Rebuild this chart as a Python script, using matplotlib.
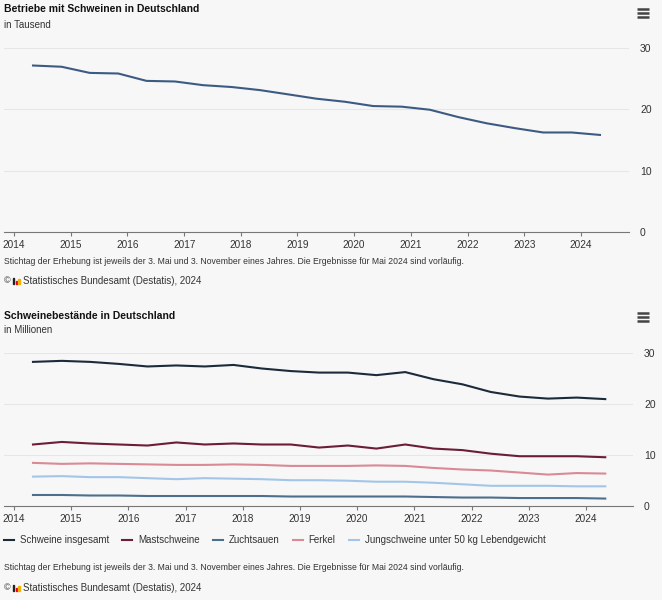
import pandas as pd
import matplotlib
matplotlib.use('Agg')
import matplotlib.pyplot as plt
import matplotlib.dates as mdates
from matplotlib.lines import Line2D
from matplotlib.patches import Rectangle

# Stichtage: jeweils 3. Mai und 3. November
stichtage = pd.to_datetime([
    '2014-05-03', '2014-11-03', '2015-05-03', '2015-11-03', '2016-05-03',
    '2016-11-03', '2017-05-03', '2017-11-03', '2018-05-03', '2018-11-03',
    '2019-05-03', '2019-11-03', '2020-05-03', '2020-11-03', '2021-05-03',
    '2021-11-03', '2022-05-03', '2022-11-03', '2023-05-03', '2023-11-03',
    '2024-05-03'])

# Betriebe in Tausend
betriebe = [27.1, 26.9, 25.9, 25.8, 24.6, 24.5, 23.9, 23.6, 23.1, 22.4,
            21.7, 21.2, 20.5, 20.4, 19.9, 18.7, 17.7, 16.9, 16.2, 16.2, 15.8]

# Bestaende in Millionen
insgesamt = [28.2, 28.4, 28.2, 27.8, 27.3, 27.5, 27.3, 27.6, 26.9, 26.4,
             26.1, 26.1, 25.6, 26.2, 24.8, 23.8, 22.3, 21.4, 21.0, 21.2, 20.9]
mast = [12.0, 12.5, 12.2, 12.0, 11.8, 12.4, 12.0, 12.2, 12.0, 12.0,
        11.4, 11.8, 11.2, 12.0, 11.2, 10.9, 10.2, 9.7, 9.7, 9.7, 9.5]
zucht = [2.1, 2.1, 2.0, 2.0, 1.9, 1.9, 1.9, 1.9, 1.9, 1.8,
         1.8, 1.8, 1.8, 1.8, 1.7, 1.6, 1.6, 1.5, 1.5, 1.5, 1.4]
ferkel = [8.4, 8.2, 8.3, 8.2, 8.1, 8.0, 8.0, 8.1, 8.0, 7.8,
          7.8, 7.8, 7.9, 7.8, 7.4, 7.1, 6.9, 6.5, 6.1, 6.4, 6.3]
jung = [5.7, 5.8, 5.6, 5.6, 5.4, 5.2, 5.4, 5.3, 5.2, 5.0,
        5.0, 4.9, 4.7, 4.7, 4.5, 4.2, 3.9, 3.9, 3.9, 3.8, 3.8]

serien = [
    ('Schweine insgesamt', insgesamt, '#1c2b3c'),
    ('Mastschweine', mast, '#6b1d3a'),
    ('Zuchtsauen', zucht, '#4d6f8e'),
    ('Ferkel', ferkel, '#d98a95'),
    ('Jungschweine unter 50 kg Lebendgewicht', jung, '#a3c6e8'),
]

fussnote = ('Stichtag der Erhebung ist jeweils der 3. Mai und 3. November eines Jahres. '
            'Die Ergebnisse für Mai 2024 sind vorläufig.')
quelle = 'Statistisches Bundesamt (Destatis), 2024'

plt.rcParams['font.family'] = ['Liberation Sans', 'DejaVu Sans']

BG = '#f7f7f7'
TXT = '#333333'
W, H = 662, 600
fig = plt.figure(figsize=(W / 100, H / 100), dpi=100, facecolor=BG)


def fx(x):
    return x / W


def fy(y):
    return 1 - y / H


def style_axes(ax, x0, x1):
    ax.set_facecolor(BG)
    ax.set_ylim(0, 30)
    ax.set_yticks([0, 10, 20, 30])
    ax.yaxis.tick_right()
    ax.tick_params(axis='y', length=0, pad=8, labelsize=7.5, labelcolor=TXT)
    ax.tick_params(axis='x', length=3, color='#777777', labelsize=7.2,
                   labelcolor=TXT, pad=3)
    ax.set_xlim(pd.Timestamp(x0), pd.Timestamp(x1))
    ax.xaxis.set_major_locator(mdates.YearLocator())
    ax.xaxis.set_major_formatter(mdates.DateFormatter('%Y'))
    for s in ['top', 'right', 'left']:
        ax.spines[s].set_visible(False)
    ax.spines['bottom'].set_color('#777777')
    ax.grid(axis='y', color='#e6e6e6', lw=0.8)
    ax.set_axisbelow(True)


def menu_icon(y):
    for dy in (-4, 0, 4):
        fig.add_artist(Line2D([fx(637), fx(649)], [fy(y + dy), fy(y + dy)],
                              color='#444444', lw=1.8, solid_capstyle='butt'))


def copyright_line(y):
    fig.text(fx(4), fy(y), '©', fontsize=6.5, color=TXT, va='center')
    fig.add_artist(Rectangle((fx(13), fy(y + 3)), 1.5 / W, 6 / H, color='#222222'))
    fig.add_artist(Rectangle((fx(15.5), fy(y + 3)), 1.5 / W, 3 / H, color='#e2001a'))
    fig.add_artist(Rectangle((fx(18), fy(y + 3)), 2 / W, 5 / H, color='#f2b300'))
    fig.text(fx(23), fy(y), quelle, fontsize=7, color=TXT, va='center')


# oberes Diagramm
ax1 = fig.add_axes([fx(4), fy(232), (629 - 4) / W, (232 - 47.7) / H])
style_axes(ax1, '2013-10-28', '2024-11-06')
ax1.plot(stichtage, betriebe, color='#3d5b82', lw=1.5)

fig.text(fx(4), fy(9), 'Betriebe mit Schweinen in Deutschland', fontsize=7.5,
         fontweight='bold', color='#111111', va='center')
fig.text(fx(4), fy(25), 'in Tausend', fontsize=7, color=TXT, va='center')
menu_icon(13)
fig.text(fx(4), fy(262), fussnote, fontsize=6.2, color=TXT, va='center')
copyright_line(281)

# unteres Diagramm
ax2 = fig.add_axes([fx(4), fy(505.7), (633 - 4) / W, (505.7 - 352.7) / H])
style_axes(ax2, '2013-10-30', '2024-10-27')
handles = []
for name, werte, farbe in serien:
    ax2.plot(stichtage, werte, color=farbe, lw=1.5)
    handles.append(Line2D([], [], color=farbe, lw=1.5, label=name))

fig.text(fx(4), fy(316), 'Schweinebestände in Deutschland', fontsize=7.5,
         fontweight='bold', color='#111111', va='center')
fig.text(fx(4), fy(330), 'in Millionen', fontsize=7, color=TXT, va='center')
menu_icon(317)

fig.legend(handles=handles, loc='center left', bbox_to_anchor=(fx(4), fy(540)),
           ncol=5, frameon=False, fontsize=7.0, handlelength=1.0, handletextpad=0.6,
           columnspacing=1.4, borderaxespad=0, borderpad=0, labelcolor=TXT)

fig.text(fx(4), fy(568), fussnote, fontsize=6.2, color=TXT, va='center')
copyright_line(588)

fig.savefig('out.png', dpi=100, facecolor=BG)
